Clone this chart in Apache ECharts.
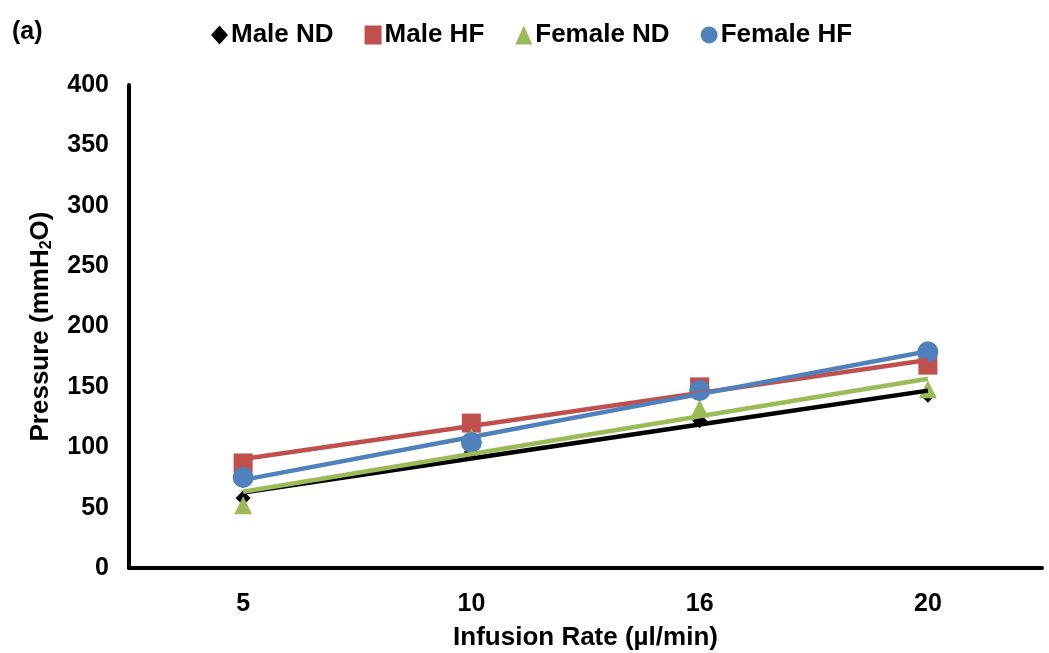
<!DOCTYPE html>
<html><head><meta charset="utf-8">
<script src="https://cdn.jsdelivr.net/npm/echarts@6/dist/echarts.min.js"></script>
<style>html,body{margin:0;padding:0;background:#fff}#c{width:1049px;height:653px}</style>
</head><body><div id="c"></div>
<script>
const categories = ['5', '10', '16', '20'];
const maleND = [58, 96, 122, 143];
const maleHF = [87, 120, 150, 168];
const femaleND = [52, 108, 132, 148];
const femaleHF = [75, 104, 147, 179];
const seriesNames = ['Male ND', 'Male HF', 'Female ND', 'Female HF'];
const yTicks = [0, 50, 100, 150, 200, 250, 300, 350, 400];

const colors = ['#000000', '#C0504D', '#9BBB59', '#4F81BD'];
const symbols = ['diamond', 'rect', 'triangle', 'circle'];
const sizes = [15, 19, 18, 21];
const allData = [maleND, maleHF, femaleND, femaleHF];

function trend(vals) {
  const n = vals.length;
  const xs = vals.map((_, i) => i + 1);
  const mx = xs.reduce((a, b) => a + b, 0) / n;
  const my = vals.reduce((a, b) => a + b, 0) / n;
  let sxy = 0, sxx = 0;
  for (let i = 0; i < n; i++) { sxy += (xs[i] - mx) * (vals[i] - my); sxx += (xs[i] - mx) ** 2; }
  const b = sxy / sxx, a = my - b * mx;
  return xs.map(x => a + b * x);
}

const series = [];
allData.forEach((d, i) => {
  series.push({
    name: seriesNames[i], type: 'line', data: d,
    symbol: symbols[i], symbolSize: sizes[i],
    lineStyle: { width: 0, opacity: 0 },
    itemStyle: { color: colors[i] }, z: 3 + i
  });
});
allData.forEach((d, i) => {
  series.push({
    name: seriesNames[i] + ' trend', type: 'line', data: trend(d),
    symbol: 'none', lineStyle: { width: 4.5, color: colors[i] },
    itemStyle: { color: colors[i] }, z: 8 + i, silent: true
  });
});

const F = 'Liberation Sans';
const chart = echarts.init(document.getElementById('c'));
chart.setOption({
  animation: false,
  backgroundColor: '#fff',
  title: { text: '(a)', left: 7, top: 15, textStyle: { fontFamily: F, fontWeight: 'bold', fontSize: 25, color: '#000' } },
  legend: {
    data: seriesNames.map((n, i) => ({ name: n, icon: symbols[i] })),
    top: 17, left: 206, itemGap: 31, itemWidth: 17, itemHeight: 19,
    textStyle: { fontFamily: F, fontWeight: 'bold', fontSize: 26, color: '#000', padding: [0, 0, 0, -2] }
  },
  grid: { left: 129, right: 7, top: 85, bottom: 85, outerBoundsMode: 'none', containLabel: false },
  xAxis: {
    type: 'category', data: categories, boundaryGap: true,
    axisLine: { lineStyle: { color: '#000', width: 4 } },
    axisTick: { show: false },
    axisLabel: { margin: 24, fontFamily: F, fontWeight: 'bold', fontSize: 25, color: '#000' },
    name: 'Infusion Rate (µl/min)', nameLocation: 'middle', nameGap: 57,
    nameTextStyle: { fontFamily: F, fontWeight: 'bold', fontSize: 26, color: '#000' }
  },
  yAxis: {
    type: 'value', min: yTicks[0], max: yTicks[yTicks.length - 1], interval: 50,
    axisLine: { show: true, lineStyle: { color: '#000', width: 4 } },
    axisTick: { show: false },
    splitLine: { show: false },
    axisLabel: { margin: 20, fontFamily: F, fontWeight: 'bold', fontSize: 25, color: '#000' },
    name: 'Pressure (mmH{sub|2}O)', nameLocation: 'middle', nameGap: 74,
    nameTextStyle: { fontFamily: F, fontWeight: 'bold', fontSize: 26, color: '#000',
      rich: { sub: { fontFamily: F, fontWeight: 'bold', fontSize: 16, color: '#000', verticalAlign: 'bottom', padding: [12, 0, 0, 0] } } }
  },
  series: series
});
</script></body></html>
